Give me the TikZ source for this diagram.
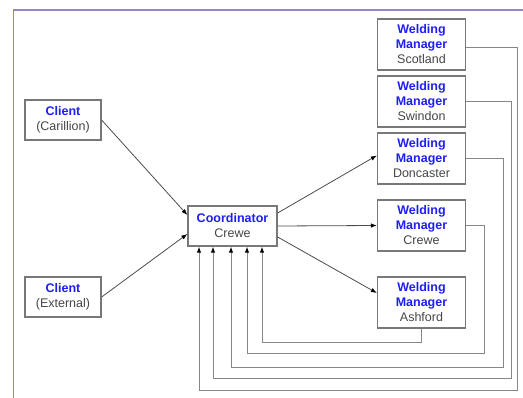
\documentclass[tikz,border=0pt]{standalone}
\usepackage{fontspec}
\setmainfont{Liberation Sans}
\usepackage{tikz}
\usetikzlibrary{arrows,arrows.meta,shapes}
\definecolor{boxgray}{RGB}{120,120,120}
\definecolor{linegray}{RGB}{135,135,135}
\definecolor{titleblue}{RGB}{30,30,250}
\definecolor{subgray}{RGB}{70,70,70}
\definecolor{framepurple}{RGB}{155,130,205}
\tikzstyle{box}=[rectangle,draw=boxgray,line width=1.3pt,fill=white,align=center,inner sep=0pt,font=\fontsize{12.5}{15}\selectfont]
\tikzstyle{client box} = [box, minimum width=76pt, minimum height=40pt]
\tikzstyle{manager box} = [box, minimum width=88pt, minimum height=51pt]
\tikzstyle{edge} = [draw,line width=0.8pt,color=black!70,-{Latex[black,length=6pt,width=4.5pt]}]
\tikzstyle{return} = [draw,line width=1pt,color=linegray,-{Latex[black,length=6pt,width=4.5pt]}]
\newcommand{\role}[2]{\textcolor{titleblue}{\bfseries #1}\\\textcolor{subgray}{#2}}
\newcommand{\welder}[1]{\textcolor{titleblue}{\bfseries Welding}\\\textcolor{titleblue}{\bfseries Manager}\\\textcolor{subgray}{#1}}

\begin{document}
\begin{tikzpicture}[x=1pt,y=-1pt]
    \useasboundingbox (0,0) rectangle (523,398);
    % frame of the page
    \draw[framepurple,line width=1.5pt] (13.5,398) -- (13.5,10) -- (523,10);

    % First we draw the clients and the coordinator
    \node[client box] (carillion) at (63,120) {\role{Client}{(Carillion)}};
    \node[client box] (external) at (63,297) {\role{Client}{(External)}};
    \node[box, minimum width=89pt, minimum height=40pt] (coord) at (232.5,226) {\role{Coordinator}{Crewe}};

    % the welding managers
    \foreach \ypos/\name/\place in {44.5/scotland/Scotland, 101.5/swindon/Swindon, 158.5/doncaster/Doncaster, 225.5/crewe/Crewe, 302.5/ashford/Ashford}
        \node[manager box] (\name) at (421.5,\ypos) {\welder{\place}};

    % Connect clients to the coordinator
    \path[edge] (carillion.east) -- ([yshift=11pt]coord.west);
    \path[edge] (external.east) -- ([yshift=-8pt]coord.west);

    % Coordinator to managers
    \path[edge] ([yshift=13pt]coord.east) -- ([yshift=3pt]doncaster.west);
    \path[edge] (coord.east) -- (crewe.west);
    \path[edge] ([yshift=-11pt]coord.east) -- ([yshift=9.5pt]ashford.west);

    % Reports back to the coordinator
    \path[return] (ashford.south) -- (421.5,343) -| ([xshift=29.5pt]coord.south);
    \path[return] (crewe.east) -| (484,354) -| ([xshift=14.5pt]coord.south);
    \path[return] (doncaster.east) -| (503,368) -| ([xshift=-1.5pt]coord.south);
    \path[return] (swindon.east) -| (511,379) -| ([xshift=-19.5pt]coord.south);
    \path[return] ([yshift=-3pt]scotland.east) -| (517,391) -| ([xshift=-33.5pt]coord.south);
\end{tikzpicture}
\end{document}
